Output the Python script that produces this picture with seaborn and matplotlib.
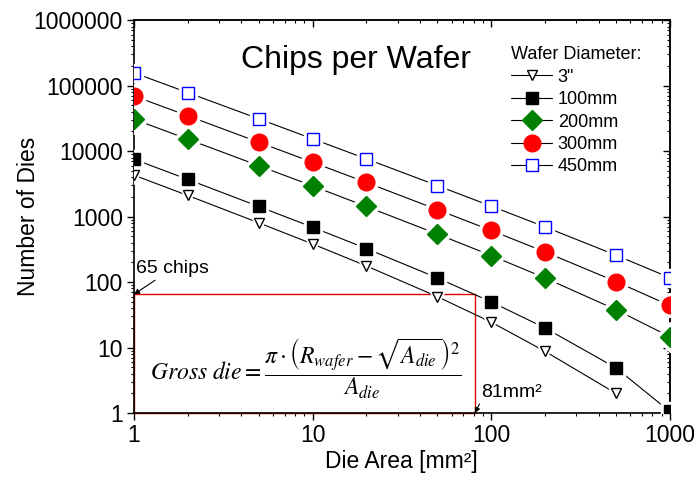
import numpy as np
import pandas as pd
import matplotlib
matplotlib.use("Agg")
import matplotlib.pyplot as plt
from matplotlib.ticker import FixedLocator, FuncFormatter, LogLocator, NullFormatter
import seaborn as sns

# die area [mm^2]
die_area = [1, 2, 5, 10, 20, 50, 100, 200, 500, 1000]

# number of dies per wafer
dies_3in = [4300, 2110, 805, 383, 177, 60, 24.5, 8.8, 2.0, np.nan]
dies_100mm = [7540, 3710, 1430, 690, 326, 116, 50, 20, 4.9, 1.06]
dies_200mm = [30800, 15270, 6000, 2950, 1430, 543, 255, 116, 38, 14.7]
dies_300mm = [69700, 34700, 13700, 6770, 3330, 1280, 616, 290, 102, 44]
dies_450mm = [157600, 78500, 31200, 15460, 7640, 2980, 1450, 698, 258, 117]

labels = ['3"', "100mm", "200mm", "300mm", "450mm"]
series = [dies_3in, dies_100mm, dies_200mm, dies_300mm, dies_450mm]

# marker, size, face, edge
styles = [
    ("v", 7.5, "white", "black"),
    ("s", 8, "black", "black"),
    ("D", 10, "#008000", "#008000"),
    ("o", 12, "#ff0000", "#ff0000"),
    ("s", 8.5, "white", "#0000ff"),
]

sns.set_style("ticks")
plt.rcParams["font.family"] = ["Liberation Sans", "DejaVu Sans"]
plt.rcParams["mathtext.fontset"] = "stix"
for key in ["text.color", "axes.labelcolor", "xtick.color", "ytick.color"]:
    plt.rcParams[key] = "black"

fig = plt.figure(figsize=(6.94, 4.82), dpi=100)
ax = fig.add_axes([0.193, 0.143, 0.772, 0.815])

for lab, vals, (mk, ms, fc, ec) in zip(labels, series, styles):
    df = pd.DataFrame({"area": die_area, "dies": vals}).dropna()
    # white halo under markers gives the small gap in the lines
    ax.plot(df["area"], df["dies"], ls="none", marker=mk, ms=ms + 5,
            mfc="white", mec="white", zorder=3)
    sns.lineplot(data=df, x="area", y="dies", ax=ax, color="black", lw=0.8,
                 zorder=2, label=None)
    sns.lineplot(data=df, x="area", y="dies", ax=ax, color="black", lw=0,
                 marker=mk, markersize=ms, markerfacecolor=fc, markeredgecolor=ec,
                 markeredgewidth=1.0, zorder=4, label=lab)

ax.set_xscale("log")
ax.set_yscale("log")
ax.set_xlim(1, 1000)
ax.set_ylim(1, 1e6)

fmt = FuncFormatter(lambda v, p: f"{int(round(v))}")
ax.xaxis.set_major_locator(FixedLocator([1, 10, 100, 1000]))
ax.yaxis.set_major_locator(FixedLocator([1, 10, 100, 1000, 1e4, 1e5, 1e6]))
ax.xaxis.set_major_formatter(fmt)
ax.yaxis.set_major_formatter(fmt)
ax.xaxis.set_minor_locator(LogLocator(base=10, subs=np.arange(2, 10)))
ax.yaxis.set_minor_locator(LogLocator(base=10, subs=np.arange(2, 10)))
ax.xaxis.set_minor_formatter(NullFormatter())
ax.yaxis.set_minor_formatter(NullFormatter())
ax.tick_params(which="major", direction="out", length=5, width=1, labelsize=16.5, pad=3)
ax.tick_params(which="minor", direction="out", length=2.5, width=0.8)

for side in ["top", "right"]:
    ax.spines[side].set_visible(True)
for sp in ax.spines.values():
    sp.set_linewidth(1.2)
    sp.set_color("black")

# mirrored ticks pointing inward on top and right
top = ax.secondary_xaxis("top")
top.xaxis.set_major_locator(FixedLocator([1, 10, 100, 1000]))
top.xaxis.set_minor_locator(LogLocator(base=10, subs=np.arange(2, 10)))
top.tick_params(which="major", direction="in", length=5, width=1, labeltop=False)
top.tick_params(which="minor", direction="in", length=2.5, width=0.8)
top.spines["top"].set_linewidth(1.2)
right = ax.secondary_yaxis("right")
right.yaxis.set_major_locator(FixedLocator([1, 10, 100, 1000, 1e4, 1e5, 1e6]))
right.yaxis.set_minor_locator(LogLocator(base=10, subs=np.arange(2, 10)))
right.tick_params(which="major", direction="in", length=5, width=1, labelright=False)
right.tick_params(which="minor", direction="in", length=2.5, width=0.8)
right.spines["right"].set_linewidth(1.2)

ax.set_xlabel("Die Area [mm²]", fontsize=16.5, labelpad=2)
ax.set_ylabel("Number of Dies", fontsize=16.5)
ax.yaxis.set_label_coords(-0.175, 0.5)

ax.text(0.415, 0.90, "Chips per Wafer", transform=ax.transAxes, fontsize=23,
        ha="center", va="center")

handles, labs = ax.get_legend_handles_labels()
leg = ax.legend(handles, labs, title="Wafer Diameter:", loc="upper left",
                bbox_to_anchor=(0.69, 0.952), frameon=False, fontsize=13,
                title_fontsize=13, alignment="left", labelspacing=0.3,
                handlelength=2.3, handletextpad=0.3, borderaxespad=0)
for h in leg.legend_handles:
    h.set_linestyle("-")
    h.set_linewidth(0.8)

# red box marking 65 chips at 81 mm^2
ax.plot([1, 81, 81, 1, 1], [1, 1, 65, 65, 1], color="#e00000", lw=1.0,
        zorder=1, clip_on=False)
ax.annotate("65 chips", xy=(1.0, 65), xytext=(1.03, 120), fontsize=14,
            ha="left", va="bottom",
            arrowprops=dict(arrowstyle="-|>", color="black", lw=0.8,
                            mutation_scale=8, shrinkA=0, shrinkB=0))
ax.annotate("81mm²", xy=(81, 1), xytext=(88, 1.55), fontsize=14,
            ha="left", va="bottom",
            arrowprops=dict(arrowstyle="-|>", color="black", lw=0.8,
                            mutation_scale=8, shrinkA=0, shrinkB=0,
                            relpos=(0, 0)))

ax.text(9.1, 4.7,
        r"$Gross\ die = \dfrac{\pi \cdot \left(R_{wafer} - \sqrt{A_{die}}\right)^2}{A_{die}}$",
        fontsize=17, ha="center", va="center")

fig.savefig("out.png", dpi=100)
